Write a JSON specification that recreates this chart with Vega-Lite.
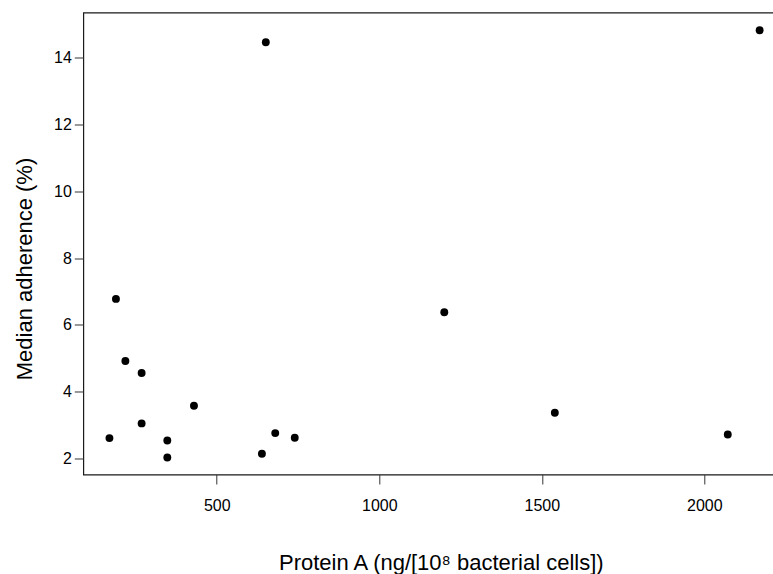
{
  "$schema": "https://vega.github.io/schema/vega-lite/v6.json",
  "autosize": {"type": "none"},
  "width": 690,
  "height": 462,
  "padding": {"left": 83.3, "top": 12.5, "right": 0, "bottom": 99.5},
  "background": "white",
  "config": {
    "view": {"stroke": "#1a1a1a", "strokeWidth": 1.2},
    "font": "Liberation Sans"
  },
  "data": {
    "values": [
      {"proteinA": 190, "adherence": 6.78},
      {"proteinA": 219, "adherence": 4.92},
      {"proteinA": 269, "adherence": 4.56},
      {"proteinA": 430, "adherence": 3.58},
      {"proteinA": 269, "adherence": 3.05},
      {"proteinA": 170, "adherence": 2.61},
      {"proteinA": 348, "adherence": 2.54},
      {"proteinA": 348, "adherence": 2.03},
      {"proteinA": 639, "adherence": 2.14},
      {"proteinA": 680, "adherence": 2.76},
      {"proteinA": 740, "adherence": 2.62},
      {"proteinA": 651, "adherence": 14.47},
      {"proteinA": 1200, "adherence": 6.38},
      {"proteinA": 1540, "adherence": 3.37},
      {"proteinA": 2072, "adherence": 2.72},
      {"proteinA": 2170, "adherence": 14.83}
    ]
  },
  "mark": {"type": "circle", "size": 62, "color": "black", "opacity": 1},
  "encoding": {
    "x": {
      "field": "proteinA",
      "type": "quantitative",
      "scale": {"domain": [89.6, 2212], "nice": false, "zero": false},
      "axis": {
        "title": "Protein A (ng/[10⁸ bacterial cells])",
        "values": [500, 1000, 1500, 2000],
        "format": "d",
        "grid": false,
        "domain": false,
        "tickSize": 9.5,
        "tickColor": "#333333",
        "labelFont": "Liberation Sans",
        "labelFontSize": 16,
        "labelColor": "black",
        "labelBaseline": "alphabetic",
        "labelPadding": 27,
        "labelFlush": false,
        "titleFont": "Liberation Sans",
        "titleFontSize": 22,
        "titleFontWeight": "normal",
        "titleColor": "black",
        "titleBaseline": "alphabetic",
        "titleAlign": "center",
        "titleX": 357.5,
        "titleY": 95.5
      }
    },
    "y": {
      "field": "adherence",
      "type": "quantitative",
      "scale": {"domain": [1.52, 15.36], "nice": false, "zero": false},
      "axis": {
        "title": "Median adherence (%)",
        "values": [2, 4, 6, 8, 10, 12, 14],
        "grid": false,
        "domain": false,
        "tickSize": 9,
        "tickColor": "#333333",
        "labelFont": "Liberation Sans",
        "labelFontSize": 16,
        "labelColor": "black",
        "labelPadding": 3,
        "labelFlush": false,
        "titleFont": "Liberation Sans",
        "titleFontSize": 22,
        "titleFontWeight": "normal",
        "titleColor": "black",
        "titleBaseline": "alphabetic",
        "titleAlign": "center",
        "titleAngle": -90,
        "titleX": -51.3,
        "titleY": 256
      }
    }
  }
}
